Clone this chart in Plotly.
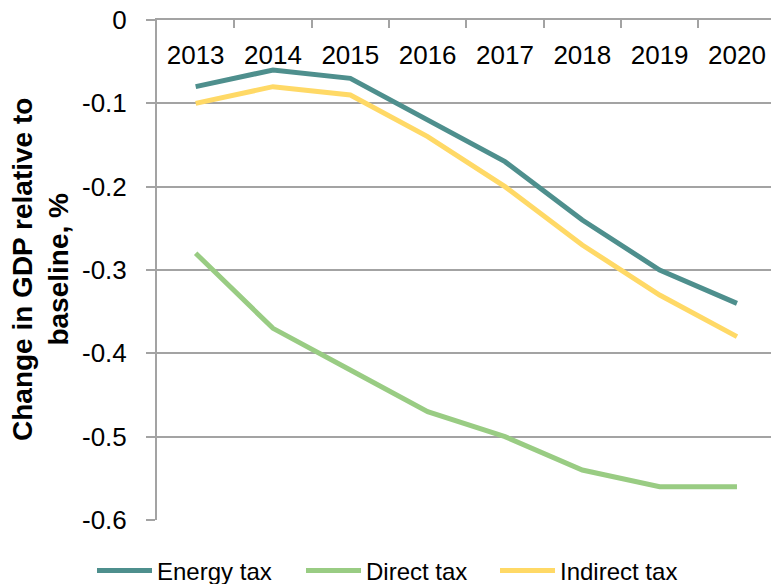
import plotly.graph_objects as go

years = ["2013", "2014", "2015", "2016", "2017", "2018", "2019", "2020"]
energy_tax = [-0.08, -0.06, -0.07, -0.12, -0.17, -0.24, -0.30, -0.34]
direct_tax = [-0.28, -0.37, -0.42, -0.47, -0.50, -0.54, -0.56, -0.56]
indirect_tax = [-0.10, -0.08, -0.09, -0.14, -0.20, -0.27, -0.33, -0.38]
y_tick_vals = [0, -0.1, -0.2, -0.3, -0.4, -0.5, -0.6]
y_tick_text = ["0", "-0.1", "-0.2", "-0.3", "-0.4", "-0.5", "-0.6"]
y_title = "<b>Change in GDP relative to<br>baseline, %</b>"

FONT = "Liberation Sans, Arial, sans-serif"
GRID = "#A3A3A3"
W, H = 771, 584
L, R, T, B = 157, 0, 20, 64
PW, PH = W - L - R, H - T - B

fig = go.Figure()
fig.add_trace(go.Scatter(x=years, y=energy_tax, name="Energy tax", mode="lines",
                         legend="legend",
                         line=dict(color="#4E8F8D", width=5)))
fig.add_trace(go.Scatter(x=years, y=direct_tax, name="Direct tax", mode="lines",
                         xaxis="x2", legend="legend2",
                         line=dict(color="#99CC83", width=5)))
fig.add_trace(go.Scatter(x=years, y=indirect_tax, name="Indirect tax", mode="lines",
                         legend="legend3",
                         line=dict(color="#FFD966", width=5)))


def leg(px):
    return dict(orientation="h", xref="container", yref="paper",
                x=px / W, xanchor="left", y=-(571 - (H - B)) / PH, yanchor="middle",
                font=dict(size=24), itemwidth=55,
                bgcolor="rgba(0,0,0,0)")


fig.add_annotation(text=y_title, textangle=-90, showarrow=False,
                   xref="paper", yref="paper",
                   x=(40 - L) / PW, y=0.5, xanchor="center", yanchor="middle",
                   font=dict(size=28, family=FONT, color="black"))

fig.update_layout(
    width=W, height=H,
    margin=dict(l=L, r=R, t=T, b=B, autoexpand=False),
    plot_bgcolor="white", paper_bgcolor="white",
    font=dict(family=FONT, size=26, color="black"),
    showlegend=True,
    legend=leg(92), legend2=leg(301), legend3=leg(495),
    xaxis=dict(type="category", side="top", range=[-0.5, 7.44],
               categoryorder="array", categoryarray=years,
               showline=True, linecolor=GRID, linewidth=2,
               ticks="inside", tickson="boundaries", ticklen=8,
               tickcolor=GRID, tickwidth=2,
               showticklabels=False,
               showgrid=False, zeroline=False),
    xaxis2=dict(type="category", overlaying="x", matches="x",
                categoryorder="array", categoryarray=years,
                anchor="free", position=0.966, side="bottom",
                showline=False, ticks="", showgrid=False, zeroline=False,
                showticklabels=True, tickfont=dict(size=26)),
    yaxis=dict(range=[-0.6, 0], tickvals=y_tick_vals, ticktext=y_tick_text,
               showline=True, linecolor=GRID, linewidth=2,
               ticks="outside", ticklen=9, tickcolor=GRID, tickwidth=2,
               ticklabelstandoff=14,
               showgrid=True, gridcolor=GRID, gridwidth=2, zeroline=False,
               tickfont=dict(size=26)),
)

fig.write_html("out.html", config={"displayModeBar": False},
               post_script="document.body.style.margin='0';")
